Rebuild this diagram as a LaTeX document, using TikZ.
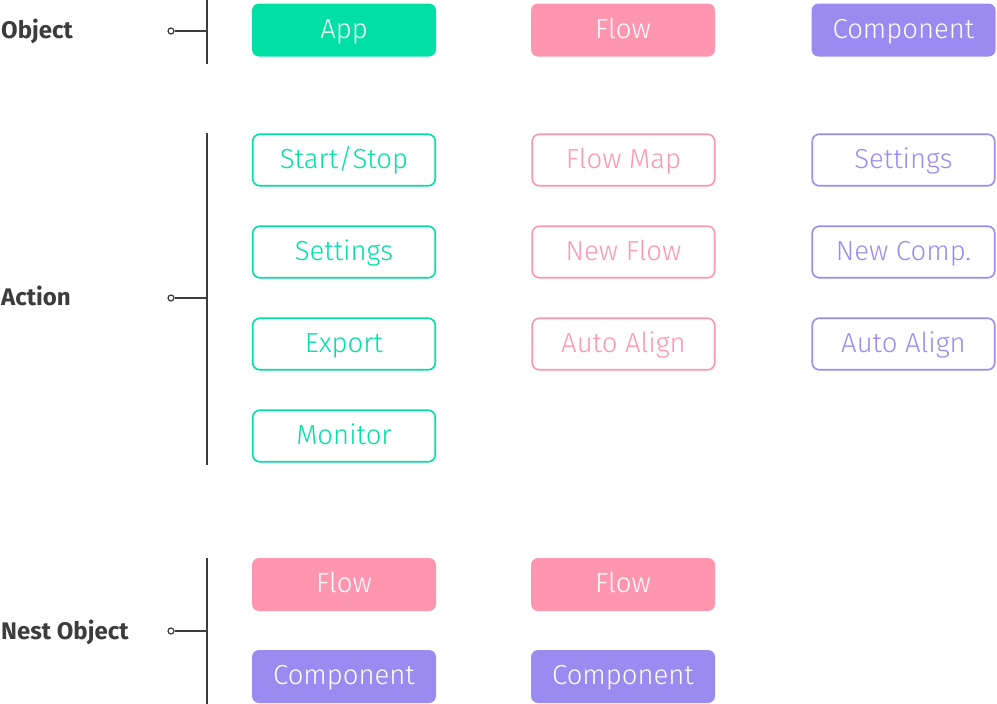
\documentclass[tikz,border=0pt]{standalone}
\usepackage{fontspec}
\setmainfont{Fira Sans}
\newfontfamily\lightfont{Fira Sans Light}
\newfontfamily\boldfont{Fira Sans Bold}
\definecolor{cgreen}{HTML}{00E0A4}
\definecolor{cpink}{HTML}{FF96B0}
\definecolor{cpurple}{HTML}{9B8AF0}
\definecolor{cdark}{HTML}{3C3C3C}
\begin{document}
\begin{tikzpicture}[x=1pt,y=-1pt,
  box/.style={rounded corners=7pt,minimum width=184pt,minimum height=53pt,inner sep=0pt,text height=19pt,text depth=3pt,font=\lightfont\fontsize{27.5}{32}\selectfont},
  filledbox/.style={box,fill=#1,text=white},
  outbox/.style={box,draw=#1,line width=1.6pt,text=#1,minimum width=182.5pt,minimum height=51.5pt},
  lbl/.style={anchor=base west,inner sep=0pt,text=cdark,font=\boldfont\fontsize{24}{28}\selectfont},
  brk/.style={draw=cdark,line width=1.3pt},
  dot/.style={circle,draw=cdark,line width=1.2pt,fill=white,minimum size=6pt,inner sep=0pt}]
\useasboundingbox (0,0) rectangle (997,704);
% Object row
\node[filledbox=cgreen] (app) at (344,30) {App};
\node[filledbox=cpink] (flow) at (623,30) {Flow};
\node[filledbox=cpurple] (comp) at (903.5,30) {Component};
% Action
\node[outbox=cgreen] (a1) at (344,160) {Start/Stop};
\node[outbox=cgreen] (a2) at (344,252) {Settings};
\node[outbox=cgreen] (a3) at (344,344) {Export};
\node[outbox=cgreen] (a4) at (344,436) {Monitor};
\node[outbox=cpink] (b1) at (623.5,160) {Flow Map};
\node[outbox=cpink] (b2) at (623.5,252) {New Flow};
\node[outbox=cpink] (b3) at (623.5,344) {Auto Align};
\node[outbox=cpurple] (c1) at (903.5,160) {Settings};
\node[outbox=cpurple] (c2) at (903.5,252) {New Comp.};
\node[outbox=cpurple] (c3) at (903.5,344) {Auto Align};
% Nest
\node[filledbox=cpink] (n1) at (344,584.5) {Flow};
\node[filledbox=cpink] (n2) at (623,584.5) {Flow};
\node[filledbox=cpurple] (n3) at (344,676.5) {Component};
\node[filledbox=cpurple] (n4) at (623,676.5) {Component};
% labels
\node[lbl] (lo) at (1,38) {Object};
\node[lbl] (la) at (1,305) {Action};
\node[lbl] (ln) at (1,639) {Nest Object};
% brackets
\coordinate (o1) at (207,0); \coordinate (o2) at (207,64);
\coordinate (om) at (207,31);
\draw[brk] (o1) -- (o2);
\node[dot] (od) at (171,31) {};
\draw[brk] (od) -- (om);
\coordinate (ac1) at (207,133); \coordinate (ac2) at (207,465);
\coordinate (am) at (207,298);
\draw[brk] (ac1) -- (ac2);
\node[dot] (ad) at (171,298) {};
\draw[brk] (ad) -- (am);
\coordinate (n1t) at (207,558); \coordinate (n1b) at (207,704);
\coordinate (nm) at (207,631);
\draw[brk] (n1t) -- (n1b);
\node[dot] (nd) at (171,631) {};
\draw[brk] (nd) -- (nm);
\end{tikzpicture}
\end{document}
